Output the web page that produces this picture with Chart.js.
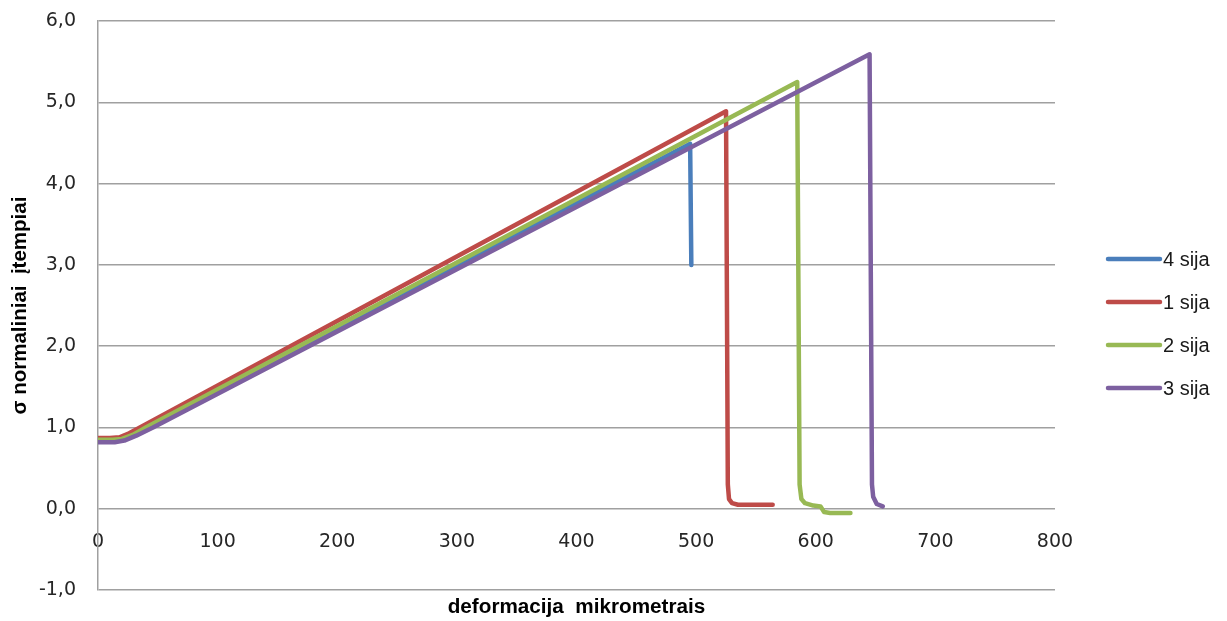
<!DOCTYPE html>
<html>
<head>
<meta charset="utf-8">
<style>
  html, body { margin: 0; padding: 0; background: #ffffff; }
  #wrap { width: 1227px; height: 621px; }
</style>
<script src="https://cdn.jsdelivr.net/npm/chart.js@4/dist/chart.umd.min.js"></script>
</head>
<body>
<div id="wrap"><canvas id="c" width="1227" height="621"></canvas></div>
<script>
// Axis ticks
const xTickValues = [0, 100, 200, 300, 400, 500, 600, 700, 800];
const yTickValues = [-1, 0, 1, 2, 3, 4, 5, 6];

// Series names (legend order)
const seriesNames = ['4 sija', '1 sija', '2 sija', '3 sija'];
const seriesColors = ['#4A7EBB', '#BE4B48', '#98B954', '#7D60A0'];

// 4 sija
const sija4X = [0, 12, 20, 28, 40, 495, 496];
const sija4Y = [0.85, 0.85, 0.86, 0.90, 1.00, 4.49, 3.00];

// 1 sija
const sija1X = [0, 10, 18, 26, 35, 525, 526.5, 527.5, 530, 535, 564];
const sija1Y = [0.87, 0.87, 0.88, 0.93, 1.00, 4.89, 0.30, 0.12, 0.07, 0.05, 0.05];

// 2 sija
const sija2X = [0, 12, 20, 29, 40, 584.5, 586.5, 588, 591, 598, 604, 607, 612, 629];
const sija2Y = [0.85, 0.85, 0.86, 0.91, 1.00, 5.25, 0.30, 0.12, 0.07, 0.04, 0.03, -0.04, -0.05, -0.05];

// 3 sija
const sija3X = [0, 14, 22, 32, 46, 645, 647, 648, 651, 656];
const sija3Y = [0.82, 0.82, 0.84, 0.90, 1.00, 5.59, 0.30, 0.15, 0.06, 0.03];

const seriesX = [sija4X, sija1X, sija2X, sija3X];
const seriesY = [sija4Y, sija1Y, sija2Y, sija3Y];

const toPoints = (xs, ys) => xs.map((x, i) => ({ x: x, y: ys[i] }));

const FONT = "'Liberation Sans', Arial, sans-serif";
const TICK_FONT = "'DejaVu Sans', Verdana, sans-serif";
const GRID = '#A0A0A0';

const datasets = seriesNames.map((name, i) => ({
  label: name,
  data: toPoints(seriesX[i], seriesY[i]),
  borderColor: seriesColors[i],
  backgroundColor: seriesColors[i],
  borderWidth: 4.5,
  pointRadius: 0,
  pointHoverRadius: 0,
  showLine: true,
  tension: 0,
  borderJoinStyle: 'round',
  borderCapStyle: 'round',
  // later series are painted over earlier ones
  order: seriesNames.length - i
}));

// Legend at the right of the plot, one line sample per series
const sideLegend = {
  id: 'sideLegend',
  afterDraw(chart) {
    const ctx = chart.ctx;
    const x0 = 1108, x1 = 1160, top = 259, step = 43;
    ctx.save();
    ctx.font = '20px ' + FONT;
    ctx.textBaseline = 'middle';
    ctx.textAlign = 'left';
    chart.data.datasets.forEach((ds, i) => {
      const y = top + i * step;
      ctx.strokeStyle = ds.borderColor;
      ctx.lineWidth = 4.5;
      ctx.lineCap = 'round';
      ctx.beginPath();
      ctx.moveTo(x0, y);
      ctx.lineTo(x1, y);
      ctx.stroke();
      ctx.fillStyle = '#1a1a1a';
      ctx.fillText(ds.label, x1 + 3, y + 1);
    });
    ctx.restore();
  }
};

new Chart(document.getElementById('c'), {
  type: 'scatter',
  data: { datasets: datasets },
  plugins: [sideLegend],
  options: {
    responsive: false,
    animation: false,
    devicePixelRatio: 1,
    layout: { padding: { top: 21, right: 172, left: 0, bottom: 0 } },
    plugins: {
      legend: { display: false },
      tooltip: { enabled: false },
      title: {
        display: true,
        position: 'bottom',
        fullSize: false,
        text: 'deformacija  mikrometrais',
        color: '#000000',
        font: { family: FONT, size: 20.7, weight: 'bold' },
        padding: { top: 5, bottom: 1 }
      }
    },
    scales: {
      x: {
        type: 'linear',
        position: { y: 0 },
        min: xTickValues[0],
        max: xTickValues[xTickValues.length - 1],
        afterBuildTicks: (s) => { s.ticks = xTickValues.map(v => ({ value: v })); },
        afterFit: (s) => { s.height = 0; },
        grid: { display: false, drawTicks: false },
        border: { display: false },
        ticks: {
          color: '#262626',
          font: { family: TICK_FONT, size: 19 },
          padding: 22,
          maxRotation: 0,
          autoSkip: false
        }
      },
      y: {
        type: 'linear',
        position: 'left',
        min: yTickValues[0],
        max: yTickValues[yTickValues.length - 1],
        afterBuildTicks: (s) => { s.ticks = yTickValues.map(v => ({ value: v })); },
        afterFit: (s) => { s.width = 98; s.paddingTop = 0; s.paddingBottom = 0; },
        grid: { color: GRID, lineWidth: 1.5, drawTicks: false },
        border: { display: true, color: GRID, width: 1.5 },
        ticks: {
          color: '#262626',
          font: { family: TICK_FONT, size: 19 },
          padding: 22,
          callback: (v) => v.toFixed(1).replace('.', ',')
        },
        title: {
          display: true,
          text: 'σ normaliniai  įtempiai',
          color: '#000000',
          font: { family: FONT, size: 20.5, weight: 'bold' },
          padding: { top: 8, bottom: 0 }
        }
      }
    }
  }
});
</script>
</body>
</html>
